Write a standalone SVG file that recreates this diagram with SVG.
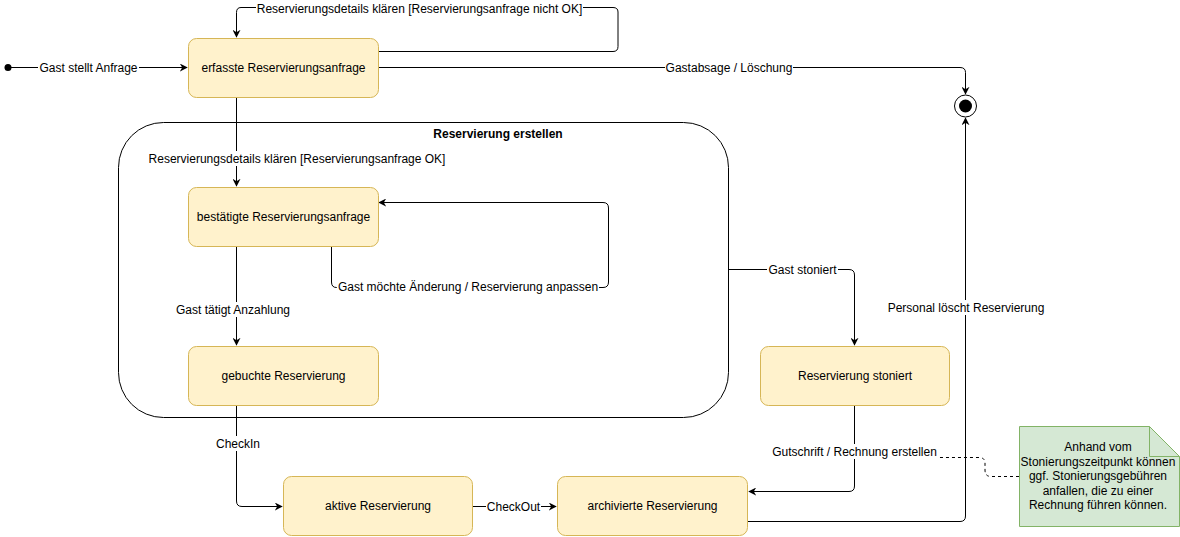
<svg xmlns="http://www.w3.org/2000/svg" width="1180" height="537" viewBox="0 0 1180 537">
<style>
text{font-family:"Liberation Sans",Arial,sans-serif;font-size:12px;fill:#000;}
.st{fill:#fff2cc;stroke:#d6b656;stroke-width:1;}
.e{fill:none;stroke:#000;stroke-width:1;}
.lb{fill:#fff;}
.c{text-anchor:middle;}
</style>
<defs>
<marker id="arr" viewBox="0 0 10 10" refX="9" refY="5" markerWidth="8" markerHeight="8" markerUnits="userSpaceOnUse" orient="auto">
<path d="M0,0 L10,5 L0,10 L3,5 Z" fill="#000"/>
</marker>
</defs>
<rect width="1180" height="537" fill="#fff"/>
<g id="container">
<rect x="118.5" y="122.5" width="610" height="295" rx="45" ry="45" fill="#fff" stroke="#000"/>
<text x="498" y="138" class="c" font-weight="bold">Reservierung erstellen</text>
</g>
<g id="connectors">
<path class="e" d="M8,67.5 H187" marker-end="url(#arr)"/>
<path class="e" d="M378,51.5 H613 Q618,51.5 618,46.5 V12 Q618,7.5 613,7.5 H241 Q236.5,7.5 236.5,12.5 V37" marker-end="url(#arr)"/>
<path class="e" d="M378,67.5 H960 Q965.5,67.5 965.5,72.5 V94" marker-end="url(#arr)"/>
<path class="e" d="M236.5,97 V186" marker-end="url(#arr)"/>
<path class="e" d="M331.5,247 V282 Q331.5,287.5 336.5,287.5 H603 Q608.5,287.5 608.5,282 V208 Q608.5,202.5 603,202.5 H379" marker-end="url(#arr)"/>
<path class="e" d="M236.5,247 V345" marker-end="url(#arr)"/>
<path class="e" d="M236.5,406 V501 Q236.5,506.5 242,506.5 H282" marker-end="url(#arr)"/>
<path class="e" d="M472,506.5 H556" marker-end="url(#arr)"/>
<path class="e" d="M728,269.5 H849 Q854.5,269.5 854.5,275 V345" marker-end="url(#arr)"/>
<path class="e" d="M854.5,406 V486 Q854.5,491.5 849,491.5 H749" marker-end="url(#arr)"/>
<path class="e" d="M748,521.5 H960 Q965.5,521.5 965.5,516 V118" marker-end="url(#arr)"/>
<path class="e" d="M1019,476.5 H991 Q985,476.5 985,470 V463 Q985,457.5 979,457.5 H937" stroke-dasharray="3,3"/>
</g>
<g id="labels">
<rect class="lb" x="38" y="60" width="101" height="15"/>
<text x="88.5" y="72" class="c">Gast stellt Anfrage</text>
<rect class="lb" x="256" y="1" width="327" height="15"/>
<text x="419.5" y="13" class="c">Reservierungsdetails klären [Reservierungsanfrage nicht OK]</text>
<rect class="lb" x="665" y="60" width="128" height="15"/>
<text x="729" y="72" class="c">Gastabsage / Löschung</text>
<rect class="lb" x="147" y="151" width="300" height="15"/>
<text x="297" y="163" class="c">Reservierungsdetails klären [Reservierungsanfrage OK]</text>
<rect class="lb" x="337" y="279" width="262" height="15"/>
<text x="468" y="291" class="c">Gast möchte Änderung / Reservierung anpassen</text>
<rect class="lb" x="164" y="302" width="128" height="15"/>
<text x="233" y="314" class="c">Gast tätigt Anzahlung</text>
<rect class="lb" x="215" y="436" width="35" height="15"/>
<text x="238" y="448" class="c">CheckIn</text>
<rect class="lb" x="486" y="499" width="55" height="15"/>
<text x="513.5" y="511" class="c">CheckOut</text>
<rect class="lb" x="767" y="262" width="71" height="15"/>
<text x="802.5" y="274" class="c">Gast stoniert</text>
<rect class="lb" x="771" y="444" width="167" height="15"/>
<text x="854.5" y="456" class="c">Gutschrift / Rechnung erstellen</text>
<rect class="lb" x="887" y="300" width="158" height="15"/>
<text x="966" y="312" class="c">Personal löscht Reservierung</text>
</g>
<g id="start"><circle cx="8" cy="67.5" r="3.5" fill="#000"/></g>
<g id="end">
<circle cx="965.5" cy="106" r="11" fill="#fff" stroke="#000"/>
<circle cx="965.5" cy="106" r="6.5" fill="#000"/>
</g>
<g id="erfasste">
<rect class="st" x="188.5" y="38.5" width="190" height="59" rx="8"/>
<text x="283.5" y="72" class="c">erfasste Reservierungsanfrage</text>
</g>
<g id="bestaetigte">
<rect class="st" x="188.5" y="187.5" width="190" height="59" rx="8"/>
<text x="283.5" y="221" class="c">bestätigte Reservierungsanfrage</text>
</g>
<g id="gebuchte">
<rect class="st" x="188.5" y="346.5" width="190" height="59" rx="8"/>
<text x="283.5" y="380" class="c">gebuchte Reservierung</text>
</g>
<g id="aktive">
<rect class="st" x="283.5" y="476.5" width="189" height="59" rx="8"/>
<text x="378" y="510" class="c">aktive Reservierung</text>
</g>
<g id="archivierte">
<rect class="st" x="557.5" y="476.5" width="190" height="59" rx="8"/>
<text x="652.5" y="510" class="c">archivierte Reservierung</text>
</g>
<g id="stoniert">
<rect class="st" x="760.5" y="346.5" width="189" height="59" rx="8"/>
<text x="855" y="380" class="c">Reservierung stoniert</text>
</g>
<g id="note">
<path d="M1019.5,426.5 H1149.5 L1179.5,456.5 V526.5 H1019.5 Z" fill="#d5e8d4" stroke="#82b366"/>
<path d="M1149.5,426.5 V456.5 H1179.5" fill="none" stroke="#82b366"/>
<text x="1098" y="451" class="c">Anhand vom</text>
<text x="1098" y="466" class="c">Stonierungszeitpunkt können</text>
<text x="1098" y="480" class="c">ggf. Stonierungsgebühren</text>
<text x="1098" y="495" class="c">anfallen, die zu einer</text>
<text x="1098" y="509" class="c">Rechnung führen können.</text>
</g>
</svg>
